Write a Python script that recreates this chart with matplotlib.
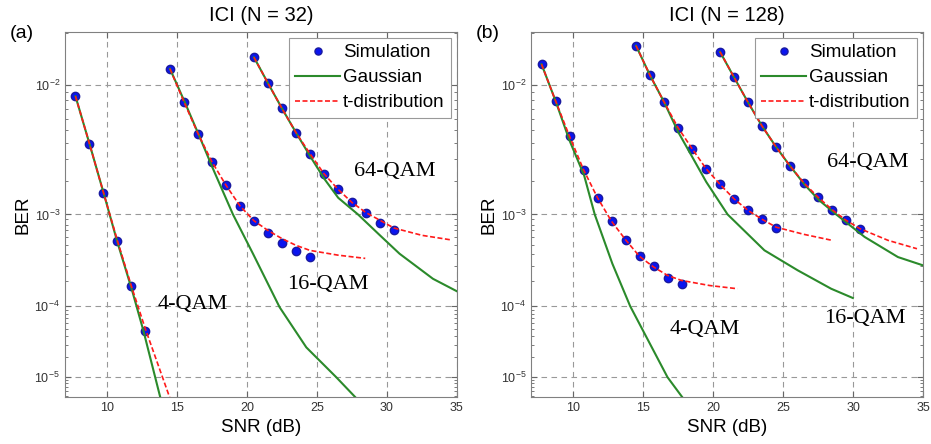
import numpy as np
import matplotlib.pyplot as plt
from matplotlib.ticker import FixedLocator, FixedFormatter

plt.rcParams['font.family'] = ['Liberation Sans', 'DejaVu Sans']
plt.rcParams['mathtext.default'] = 'regular'

# ------------------
# Data: SNR (dB) and BER
# ------------------

# (a) ICI, N = 32
snr_sim_4_a = [7.75, 8.75, 9.75, 10.75, 11.75, 12.75]
ber_sim_4_a = [8.5e-3, 3.95e-3, 1.58e-3, 5.5e-4, 1.74e-4, 4.8e-5]
snr_t_4_a = [7.75, 8.75, 9.75, 10.75, 11.75, 12.75, 14.48, 14.75]
ber_t_4_a = [8.5e-3, 3.95e-3, 1.58e-3, 5.5e-4, 1.74e-4, 5.0e-5, 4.7e-6, 3.2e-6]
snr_g_4_a = [7.75, 8.75, 9.75, 10.75, 11.75, 12.6, 13.8, 14.1]
ber_g_4_a = [8.5e-3, 3.95e-3, 1.58e-3, 5.3e-4, 1.65e-4, 4.8e-5, 4.8e-6, 3.3e-6]

snr_sim_16_a = [14.5, 15.5, 16.5, 17.5, 18.5, 19.5, 20.5, 21.5, 22.5, 23.5, 24.5]
ber_sim_16_a = [1.26e-2, 7.8e-3, 4.7e-3, 2.86e-3, 1.83e-3, 1.2e-3, 8.65e-4, 6.6e-4,
                5.26e-4, 4.31e-4, 3.69e-4]
snr_t_16_a = [14.5, 15.5, 16.5, 17.5, 18.5, 19.5, 20.5, 21.5, 22.5, 23.5, 24.5, 26.5, 28.45]
ber_t_16_a = [1.26e-2, 7.8e-3, 4.7e-3, 2.86e-3, 1.83e-3, 1.2e-3, 8.7e-4, 7.0e-4,
              5.8e-4, 4.95e-4, 4.38e-4, 3.9e-4, 3.6e-4]
snr_g_16_a = [14.5, 15.55, 16.57, 17.57, 19.0, 20.43, 22.33, 24.24, 26.38, 27.76, 28.1]
ber_g_16_a = [1.26e-2, 7.8e-3, 4.57e-3, 2.52e-3, 1e-3, 4.04e-4, 9.7e-5, 2.8e-5,
              1e-5, 4.7e-6, 3.9e-6]

snr_sim_64_a = [20.5, 21.5, 22.5, 23.5, 24.5, 25.5, 26.5, 27.5, 28.5, 29.5, 30.5]
ber_sim_64_a = [1.47e-2, 1.03e-2, 7.06e-3, 4.78e-3, 3.32e-3, 2.29e-3, 1.69e-3,
                1.29e-3, 1.04e-3, 8.27e-4, 7.13e-4]
snr_t_64_a = [20.5, 21.5, 22.5, 23.5, 24.5, 25.5, 26.5, 27.5, 28.5, 29.5, 30.5, 32.5, 34.5]
ber_t_64_a = [1.47e-2, 1.03e-2, 7.06e-3, 4.78e-3, 3.32e-3, 2.29e-3, 1.69e-3,
              1.29e-3, 1.04e-3, 8.8e-4, 7.4e-4, 6.26e-4, 5.65e-4]
snr_g_64_a = [20.5, 21.5, 22.5, 23.5, 24.52, 25.52, 26.52, 27.93, 29.5, 30.9, 33.29, 35]
ber_g_64_a = [1.47e-2, 1.03e-2, 7.06e-3, 4.78e-3, 3.16e-3, 2.08e-3, 1.42e-3, 1e-3,
              6.26e-4, 4.04e-4, 2.13e-4, 1.52e-4]

# (b) ICI, N = 128
snr_sim_4_b = [7.75, 8.75, 9.75, 10.75, 11.75, 12.75, 13.75, 14.75, 15.75, 16.75, 17.75]
ber_sim_4_b = [1.34e-2, 7.93e-3, 4.49e-3, 2.47e-3, 1.42e-3, 8.6e-4, 5.65e-4,
               3.78e-4, 2.96e-4, 2.19e-4, 1.83e-4]
snr_t_4_b = [7.75, 8.75, 9.75, 10.75, 11.75, 12.75, 13.75, 14.75, 15.75, 16.75, 17.75,
             19.75, 21.75]
ber_t_4_b = [1.34e-2, 7.93e-3, 4.49e-3, 2.47e-3, 1.42e-3, 8.6e-4, 5.65e-4, 3.78e-4,
             2.9e-4, 2.33e-4, 2.04e-4, 1.78e-4, 1.63e-4]
snr_g_4_b = [7.75, 8.75, 9.74, 10.79, 11.55, 12.81, 14.08, 16.75, 17.82, 18.1]
ber_g_4_b = [1.34e-2, 7.93e-3, 4.2e-3, 2.22e-3, 1e-3, 3.15e-4, 1e-4, 1e-5, 4.7e-6, 3.9e-6]

snr_sim_16_b = [14.5, 15.5, 16.5, 17.5, 18.5, 19.5, 20.5, 21.5, 22.5, 23.5, 24.5]
ber_sim_16_b = [1.71e-2, 1.15e-2, 7.8e-3, 5.19e-3, 3.63e-3, 2.52e-3, 1.86e-3,
                1.39e-3, 1.09e-3, 9.0e-4, 7.41e-4]
snr_t_16_b = [14.5, 15.5, 16.5, 17.5, 18.5, 19.5, 20.5, 21.5, 22.5, 23.5, 24.5, 26.5, 28.5]
ber_t_16_b = [1.71e-2, 1.15e-2, 7.8e-3, 5.19e-3, 3.63e-3, 2.52e-3, 1.86e-3, 1.39e-3,
              1.09e-3, 9.0e-4, 7.55e-4, 6.4e-4, 5.57e-4]
snr_g_16_b = [14.5, 15.5, 16.5, 17.51, 18.52, 19.52, 21.04, 23.67, 26.05, 28.44, 29.99]
ber_g_16_b = [1.71e-2, 1.15e-2, 7.8e-3, 4.83e-3, 3.12e-3, 1.95e-3, 1e-3, 4.39e-4,
              2.66e-4, 1.63e-4, 1.26e-4]

snr_sim_64_b = [20.5, 21.5, 22.5, 23.5, 24.5, 25.5, 26.5, 27.5, 28.5, 29.5, 30.5]
ber_sim_64_b = [1.58e-2, 1.12e-2, 7.75e-3, 5.33e-3, 3.74e-3, 2.65e-3, 1.91e-3,
                1.44e-3, 1.11e-3, 8.8e-4, 7.29e-4]
snr_t_64_b = [20.5, 21.5, 22.5, 23.5, 24.5, 25.5, 26.5, 27.5, 28.5, 29.5, 30.5, 32.5, 34.57]
ber_t_64_b = [1.58e-2, 1.12e-2, 7.75e-3, 5.33e-3, 3.74e-3, 2.65e-3, 1.91e-3, 1.44e-3,
              1.11e-3, 8.8e-4, 7.29e-4, 5.57e-4, 4.56e-4]
snr_g_64_b = [20.5, 21.5, 22.5, 23.5, 24.5, 25.5, 26.58, 27.58, 28.8, 30.83, 33.21, 35]
ber_g_64_b = [1.58e-2, 1.12e-2, 7.75e-3, 5.33e-3, 3.74e-3, 2.65e-3, 1.83e-3, 1.35e-3,
              1e-3, 6.03e-4, 3.72e-4, 3.02e-4]

x_ticks = [10, 15, 20, 25, 30, 35]
y_ticks = [1e-5, 1e-4, 1e-3, 1e-2]
y_tick_labels = ['$10^{-5}$', '$10^{-4}$', '$10^{-3}$', '$10^{-2}$']


# the BER axis of the original is scaled like log(-log(BER))
def fwd(y):
    with np.errstate(all='ignore'):
        return -np.log10(-np.log10(y))


def inv(v):
    return 10.0 ** (-(10.0 ** (-v)))


def draw_panel(ax, sims, gauss, tdist, title, tag, labels):
    for i, (s, b) in enumerate(sims):
        ax.plot(s, b, 'o', color='#0a14f0', mec='#1a1aa0', ms=6, zorder=3,
                label='Simulation' if i == 0 else None)
    for i, (s, b) in enumerate(gauss):
        ax.plot(s, b, '-', color='#2b8a2b', lw=1.5, zorder=4,
                label='Gaussian' if i == 0 else None)
    for i, (s, b) in enumerate(tdist):
        ax.plot(s, b, '--', color='#ff1a1a', lw=1.2, dashes=(3, 1.5), zorder=5,
                label='t-distribution' if i == 0 else None)

    ax.set_yscale('function', functions=(fwd, inv))
    ax.set_xlim(7, 35)
    ax.set_ylim(4.8e-6, 2.03e-2)
    ax.set_xticks(x_ticks)
    ax.yaxis.set_major_locator(FixedLocator(y_ticks))
    ax.yaxis.set_major_formatter(FixedFormatter(y_tick_labels))
    minors = [m * 10.0 ** d for d in range(-6, -1) for m in range(2, 10)]
    ax.yaxis.set_minor_locator(FixedLocator(minors))

    ax.grid(True, which='major', color='#999999', linestyle=(0, (5, 4)), lw=0.8)
    ax.tick_params(which='both', direction='in', top=True, right=True,
                   colors='#666666', labelcolor='#333333')
    ax.tick_params(axis='x', labelsize=9, length=4)
    ax.tick_params(axis='y', which='major', labelsize=9, length=4)
    ax.tick_params(axis='y', which='minor', length=2.5)
    for sp in ax.spines.values():
        sp.set_color('#808080')
        sp.set_linewidth(0.8)

    ax.set_xlabel('SNR (dB)', fontsize=13.5, labelpad=4)
    ax.set_ylabel('BER', fontsize=13.5, labelpad=2)
    ax.set_title(title, fontsize=14.5, pad=8)
    ax.text(-0.14, 0.995, tag, transform=ax.transAxes, fontsize=14,
            ha='left', va='center')

    for txt, (fx, fy) in labels:
        ax.text(fx, fy, txt, transform=ax.transAxes, fontsize=16,
                family=['Liberation Serif', 'DejaVu Serif'], ha='center', va='center')

    leg = ax.legend(loc='upper right', fontsize=13.5, numpoints=1, handlelength=2.4,
                    fancybox=False, framealpha=1, edgecolor='#999999',
                    borderaxespad=0.3, borderpad=0.35, labelspacing=0.42,
                    handletextpad=0.15, markerscale=0.85)
    leg.get_frame().set_linewidth(0.8)


fig = plt.figure(figsize=(9.31, 4.44), dpi=100)
ax_a = fig.add_axes([0.0698, 0.106, 0.421, 0.822])
ax_b = fig.add_axes([0.5704, 0.106, 0.421, 0.822])

draw_panel(ax_a,
           [(snr_sim_4_a, ber_sim_4_a), (snr_sim_16_a, ber_sim_16_a), (snr_sim_64_a, ber_sim_64_a)],
           [(snr_g_4_a, ber_g_4_a), (snr_g_16_a, ber_g_16_a), (snr_g_64_a, ber_g_64_a)],
           [(snr_t_4_a, ber_t_4_a), (snr_t_16_a, ber_t_16_a), (snr_t_64_a, ber_t_64_a)],
           'ICI (N = 32)', '(a)',
           [('64-QAM', (0.842, 0.619)), ('16-QAM', (0.671, 0.307)), ('4-QAM', (0.327, 0.252))])

draw_panel(ax_b,
           [(snr_sim_4_b, ber_sim_4_b), (snr_sim_16_b, ber_sim_16_b), (snr_sim_64_b, ber_sim_64_b)],
           [(snr_g_4_b, ber_g_4_b), (snr_g_16_b, ber_g_16_b), (snr_g_64_b, ber_g_64_b)],
           [(snr_t_4_b, ber_t_4_b), (snr_t_16_b, ber_t_16_b), (snr_t_64_b, ber_t_64_b)],
           'ICI (N = 128)', '(b)',
           [('64-QAM', (0.860, 0.641)), ('16-QAM', (0.852, 0.216)), ('4-QAM', (0.444, 0.184))])

fig.savefig('out.png', dpi=100)
